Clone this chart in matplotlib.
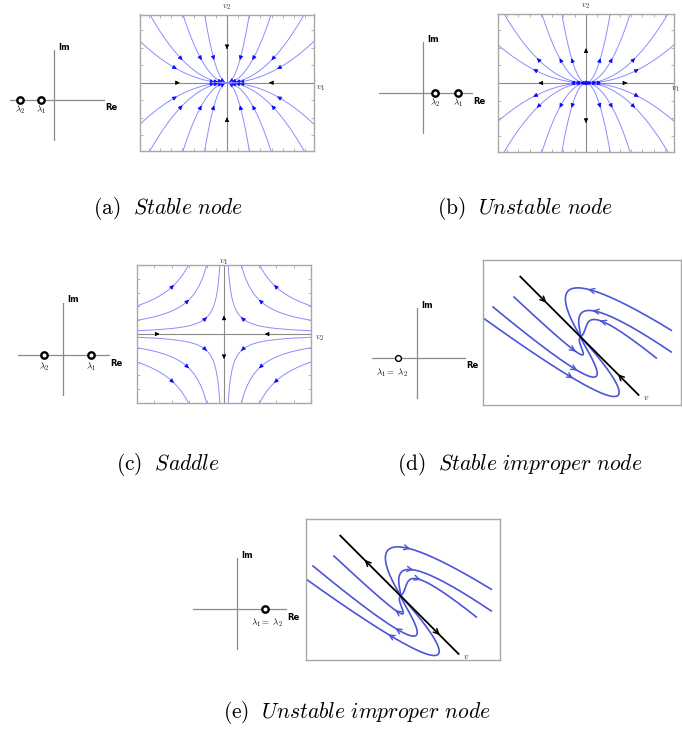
import numpy as np
import matplotlib.pyplot as plt
from matplotlib.ticker import MultipleLocator

plt.rcParams['mathtext.fontset'] = 'cm'

# eigenvalues as marked on the complex planes (Re part)
EIG_A = [-3.4, -1.3]   # lambda_2, lambda_1
EIG_B = [1.2, 3.5]
EIG_C = [-1.9, 2.8]
EIG_D = [-1.9]         # lambda_1 = lambda_2
EIG_E = [2.8]

# node trajectories  y = c * x^2
NODE_A_C = [1.95, 0.50, 0.163, 0.078]
NODE_B_C = [1.70, 0.51, 0.148, 0.071]
# saddle trajectories  x * y = c
SADDLE_C = [0.3, 1.25, 2.55]

# improper node: start points, twist and decay of the off-line part
IMP_X0 = [-1.373, -1.253, -0.953, 1.294, 1.294, 1.08]
IMP_Y0 = [0.257, 0.429, 0.571, 0.096, -0.214, -0.300]
IMP_K = [4.58, 4.2, 4.73, 2.36, 1.81, 1.355]
IMP_BETA = [1.0, 0.6, 0.30, 0.78, 0.63, 0.36]
IMP_ARROW_T = [0.47, 0.75, 1.07, 0.73, 1.09, 1.19]

CAPTIONS = ['(a)', '(b)', '(c)', '(d)', '(e)']
NAMES = ['Stable node', 'Unstable node', 'Saddle',
         'Stable improper node', 'Unstable improper node']

W, H = 682, 733
CURVE = '#8c8cff'
HEAD = '#0a0aff'
IMP = '#4a55d8'
AXC = '#8a8a8a'
FRAME = '#a8a8a8'
S2 = np.sqrt(2)

fig = plt.figure(figsize=(W / 100, H / 100), dpi=100)


def box(x0, y0, x1, y1):
    return fig.add_axes([x0 / W, 1 - y1 / H, (x1 - x0) / W, (y1 - y0) / H])


def head(ax, p, q, color, ms=7, style='-|>', lw=0.6):
    ax.annotate('', xy=q, xytext=p,
                arrowprops=dict(arrowstyle=style, color=color, lw=lw,
                                shrinkA=0, shrinkB=0, mutation_scale=ms))


def complex_plane(px, origin, eigs, labels, thick=True):
    x0, y0, x1, y1 = px
    ox, oy = origin
    ax = box(x0, y0, x1, y1)
    ax.set_xlim((x0 - ox) / 10, (x1 - ox) / 10)
    ax.set_ylim((oy - y1) / 10, (oy - y0) / 10)
    ax.axis('off')
    ax.axhline(0, color=AXC, lw=0.9)
    ax.axvline(0, color=AXC, lw=0.9)
    ax.plot(eigs, [0] * len(eigs), 'o', ms=4.6 if thick else 4.2, mfc='white',
            mec='black', mew=1.7 if thick else 1.0, clip_on=False)
    top = (oy - y0) / 10
    right = (x1 - ox) / 10
    ax.text(0.45, top + 0.3, 'Im', fontsize=6, fontweight='bold',
            ha='left', va='center')
    ax.text(right + 0.05, -0.8, 'Re', fontsize=6, fontweight='bold',
            ha='left', va='center')
    for lam, lab in zip(eigs, labels):
        ax.text(lam + lab[1], -0.95 + lab[2], lab[0], fontsize=6.5,
                ha='center', va='center')
    return ax


def phase_frame(ax, xl, yl):
    ax.set_xlim(-xl, xl)
    ax.set_ylim(-yl, yl)
    ax.xaxis.set_major_locator(MultipleLocator(0.5))
    ax.yaxis.set_major_locator(MultipleLocator(0.5))
    ax.tick_params(direction='in', length=2.2, width=0.6, colors=FRAME,
                   top=True, right=True, labelbottom=False, labelleft=False)
    for s in ax.spines.values():
        s.set_color(FRAME)
        s.set_linewidth(1.0)
    ax.axhline(0, color=AXC, lw=0.8)
    ax.axvline(0, color=AXC, lw=0.8)


def node(ax, cs, xl, yl, outward, black_x, black_y):
    phase_frame(ax, xl, yl)
    for c in cs:
        xe = min(xl, np.sqrt(yl / c))
        x = np.linspace(0, xe, 300)
        for sx in (-1, 1):
            for sy in (-1, 1):
                ax.plot(sx * x, sy * c * x ** 2, color=CURVE, lw=0.7)
                for xa, ms in ((0.6 * xe, 6), (np.sqrt(0.03 / c), 4.5)):
                    a = (sx * xa, sy * c * xa ** 2)
                    b = (sx * xa * 0.96, sy * c * (xa * 0.96) ** 2)
                    p, q = (b, a) if outward else (a, b)
                    head(ax, p, q, HEAD, ms=ms)
    for xa in black_x:
        a, b = (xa, 0), (xa * 0.96, 0)
        p, q = (b, a) if outward else (a, b)
        head(ax, p, q, 'black', ms=6)
    for ya in black_y:
        a, b = (0, ya), (0, ya * 0.96)
        p, q = (b, a) if outward else (a, b)
        head(ax, p, q, 'black', ms=6)


def saddle(ax, cs, lim):
    phase_frame(ax, lim, lim)
    for c in cs:
        x = np.geomspace(c / lim, lim, 300)
        for sx in (-1, 1):
            for sy in (-1, 1):
                ax.plot(sx * x, sy * c / x, color=CURVE, lw=0.7)
                xa = 0.9 * np.sqrt(c)
                p = (sx * xa * 1.04, sy * c / (xa * 1.04))
                q = (sx * xa, sy * c / xa)
                head(ax, p, q, HEAD, ms=6)
    head(ax, (-1.95, 0), (-1.85, 0), 'black', ms=6)
    head(ax, (1.27, 0), (1.17, 0), 'black', ms=6)
    head(ax, (0, 0.6), (0, 0.67), 'black', ms=6)
    head(ax, (0, -0.84), (0, -0.91), 'black', ms=6)


def improper(ax, xlim, ylim, stable):
    ax.set_xlim(*xlim)
    ax.set_ylim(*ylim)
    ax.set_xticks([])
    ax.set_yticks([])
    for s in ax.spines.values():
        s.set_color(FRAME)
        s.set_linewidth(1.0)
    t = np.linspace(0, 14, 800)

    def traj(u0, n0, k, b, tt):
        u = np.exp(-tt) * (u0 + k * n0 * tt)
        n = n0 * np.exp(-b * tt)
        return (u - n) / S2, (-u - n) / S2

    for x0, y0, k, b, ta in zip(IMP_X0, IMP_Y0, IMP_K, IMP_BETA, IMP_ARROW_T):
        u0 = (x0 - y0) / S2
        n0 = (-x0 - y0) / S2
        x, y = traj(u0, n0, k, b, t)
        ax.plot(x, y, color=IMP, lw=1.2)
        a = traj(u0, n0, k, b, ta - 0.04)
        c = traj(u0, n0, k, b, ta)
        p, q = (a, c) if stable else (c, a)
        head(ax, p, q, IMP, ms=9, style='->', lw=1.0)
    u = np.array([-1.22, 1.17])
    ax.plot(u / S2, -u / S2, color='black', lw=1.3)
    for ua in (-0.73, 0.79):
        a = (ua / S2, -ua / S2)
        b = (ua * 0.95 / S2, -ua * 0.95 / S2)
        p, q = (a, b) if stable else (b, a)
        head(ax, p, q, 'black', ms=9, style='->', lw=1.1)
    ax.text(0.93, -0.87, '$v$', fontsize=6.5, color='#223366',
            ha='center', va='center', clip_on=False)


# (a) stable node
complex_plane((10, 50, 105, 141), (54, 100), EIG_A,
              [(r'$\lambda_2$', 0, 0), (r'$\lambda_1$', 0, 0)])
ax = box(140, 14.5, 314, 151)
node(ax, NODE_A_C, 3.9, 1.95, False, [-2.2, 1.96], [1.0, -1.03])
ax.text(0, 2.17, '$v_2$', fontsize=7, ha='center', va='center', color='#333')
ax.text(4.22, -0.14, '$v_1$', fontsize=7, ha='center', va='center', color='#333',
        clip_on=False)

# (b) unstable node
complex_plane((379, 42, 473, 134), (423, 93), EIG_B,
              [(r'$\lambda_2$', 0, 0), (r'$\lambda_1$', 0, 0)])
ax = box(498, 14, 674, 152)
node(ax, NODE_B_C, 3.9, 1.95, True, [-2.11, 1.83], [0.98, -1.13])
ax.text(0, 2.17, '$v_2$', fontsize=7, ha='center', va='center', color='#333')
fig.text(680 / W, 1 - 89 / H, '$v_1$', fontsize=6.5, ha='right', va='center',
         color='#333')

# (c) saddle
complex_plane((18, 303, 110, 396), (63, 355), EIG_C,
              [(r'$\lambda_2$', 0, -0.2), (r'$\lambda_1$', 0, -0.2)])
ax = box(137, 265, 311, 403)
saddle(ax, SADDLE_C, 2.5)
ax.text(0, 2.62, '$v_1$', fontsize=7, ha='center', va='center', color='#333')
ax.text(2.75, -0.15, '$v_2$', fontsize=7, ha='center', va='center', color='#333',
        clip_on=False)

# (d) stable improper node
complex_plane((372, 308, 466, 399), (417, 358), EIG_D,
              [(r'$\lambda_1 =\ \lambda_2$', -0.6, -0.5)], thick=False)
ax = box(483, 260, 681, 405)
improper(ax, (-1.396, 1.433), (-0.971, 1.1), True)

# (e) unstable improper node
complex_plane((193, 558, 287, 650), (237, 609), EIG_E,
              [(r'$\lambda_1 =\ \lambda_2$', 0.2, -0.4)])
ax = box(305.7, 519.3, 499.7, 660)
improper(ax, (-1.357, 1.414), (-0.914, 1.096), False)

# captions
for (cx, cy), tag, name in zip([(168, 209), (525, 209), (168, 464),
                                (520, 464), (357, 712)], CAPTIONS, NAMES):
    fig.text(cx / W, 1 - cy / H,
             r'$\mathrm{' + tag + r'}\ \ \mathit{' + name.replace(' ', r'\ ') + '}$',
             fontsize=15.5, ha='center', va='center')

fig.savefig('out.png', dpi=100)
